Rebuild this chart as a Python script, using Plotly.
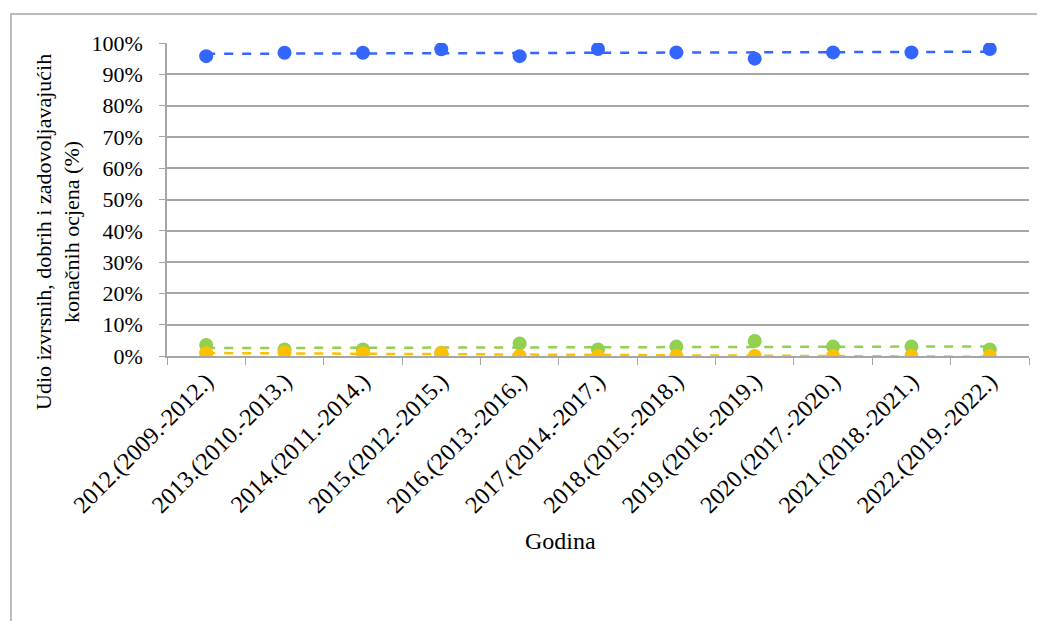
import numpy as np
import plotly.graph_objects as go

# categories (year of final grade and the 4-year period)
godine = ['2012.(2009.-2012.)', '2013.(2010.-2013.)', '2014.(2011.-2014.)', '2015.(2012.-2015.)',
          '2016.(2013.-2016.)', '2017.(2014.-2017.)', '2018.(2015.-2018.)', '2019.(2016.-2019.)',
          '2020.(2017.-2020.)', '2021.(2018.-2021.)', '2022.(2019.-2022.)']

# shares in percent
izvrsni = [95.8, 96.9, 96.9, 98.0, 95.8, 98.1, 97.0, 95.0, 97.0, 97.0, 98.1]
dobri = [3.5, 2.1, 2.1, 1.0, 4.0, 2.1, 3.0, 4.8, 3.0, 3.0, 2.1]
zadovoljavajuci = [0.9, 1.1, 0.9, 0.9, 0.0, 0.0, 0.0, 0.0, 0.0, 0.0, 0.0]

serije = [(izvrsni, '#3366FF'), (dobri, '#92D050'), (zadovoljavajuci, '#FFC000')]

FONT = 'Liberation Serif'

fig = go.Figure()
idx = np.arange(len(godine))
# linear trendlines first (dashed), markers on top
for vals, col in serije:
    k, n = np.polyfit(idx, np.array(vals) / 100, 1)
    fig.add_trace(go.Scatter(x=godine, y=k * idx + n, mode='lines',
                             line=dict(color=col, width=2.5, dash='dash'),
                             hoverinfo='skip', showlegend=False))
for vals, col in serije:
    fig.add_trace(go.Scatter(x=godine, y=np.array(vals) / 100, mode='markers',
                             marker=dict(color=col, size=14),
                             showlegend=False))

# page body has an 8px default margin, so the figure is 8px smaller
fig.update_layout(
    width=1037, height=613,
    margin=dict(l=159, r=16, t=35, b=265),
    plot_bgcolor='white', paper_bgcolor='white',
    font=dict(family=FONT, size=22, color='black'),
    showlegend=False,
)
fig.update_xaxes(
    type='category', tickangle=-45, tickson='boundaries',
    ticks='outside', ticklen=7, tickcolor='#A6A6A6',
    showline=True, linecolor='#A6A6A6', linewidth=1.5,
    showgrid=False, range=[-0.5, 10.5],
    tickfont=dict(family=FONT, size=24),
)
fig.update_yaxes(
    range=[0, 1], dtick=0.1, tickformat='.0%',
    ticks='outside', ticklen=6, tickcolor='#A6A6A6', ticklabelstandoff=12,
    showline=True, linecolor='#A6A6A6', linewidth=1.5,
    showgrid=True, gridcolor='#A6A6A6', gridwidth=1.5,
    zeroline=False,
    tickfont=dict(family=FONT, size=22),
)

# axis titles
fig.add_annotation(text='Godina', xref='paper', yref='paper', x=0.456, y=-0.591,
                   xanchor='center', yanchor='middle',
                   showarrow=False, font=dict(family=FONT, size=24))
fig.add_annotation(text='Udio izvrsnih, dobrih i zadovoljavajućih<br>konačnih ocjena (%)',
                   xref='paper', yref='paper', x=-0.1265, y=0.396, textangle=-90,
                   xanchor='center', yanchor='middle',
                   showarrow=False, font=dict(family=FONT, size=22))

# chart area border
fig.add_shape(type='rect', xref='paper', yref='paper',
              x0=-0.181, x1=1.03, y0=-0.95, y1=1.0927,
              line=dict(color='#A6A6A6', width=1.5), layer='below')

fig.write_html('out.html')
